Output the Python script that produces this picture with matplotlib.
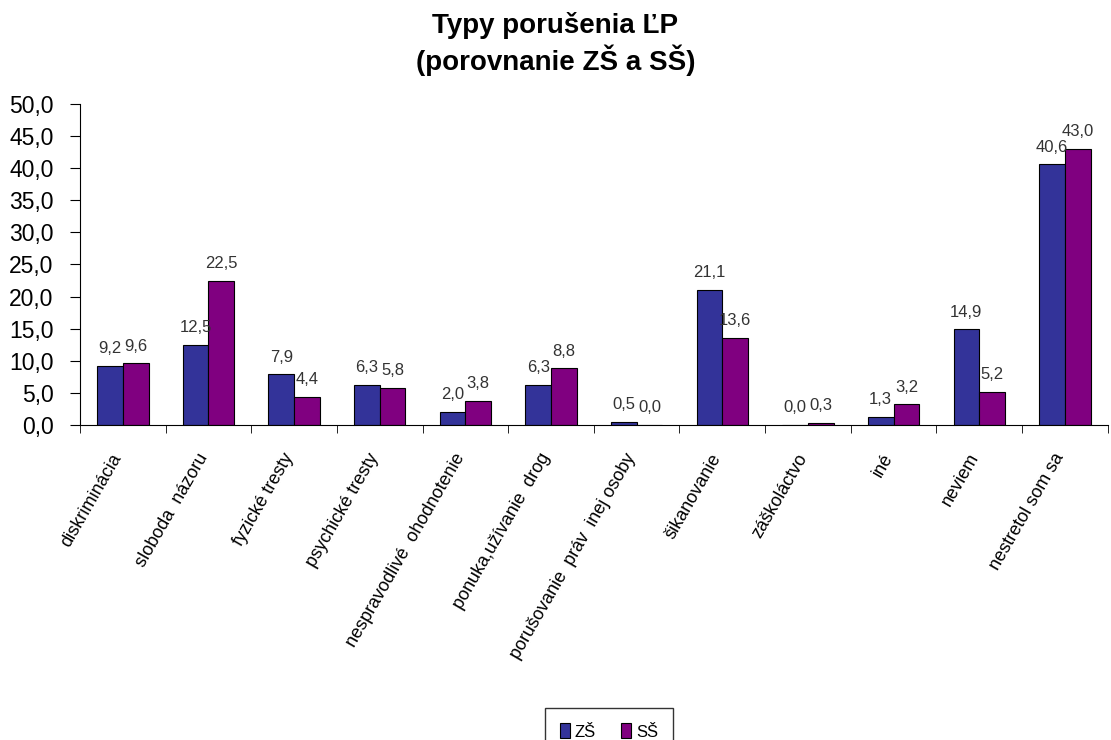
import numpy as np
import matplotlib
matplotlib.use('Agg')
import matplotlib.pyplot as plt
import matplotlib.transforms as mtransforms

plt.rcParams['font.family'] = ['Liberation Sans', 'DejaVu Sans']

# údaje
kategorie = ['diskriminácia', 'sloboda  názoru', 'fyzické tresty', 'psychické tresty',
             'nespravodlivé  ohodnotenie', 'ponuka,užívanie  drog',
             'porušovanie  práv  inej osoby', 'šikanovanie', 'záškoláctvo', 'iné',
             'neviem', 'nestretol som sa']
zs = [9.2, 12.5, 7.9, 6.3, 2.0, 6.3, 0.5, 21.1, 0.0, 1.3, 14.9, 40.6]
ss = [9.6, 22.5, 4.4, 5.8, 3.8, 8.8, 0.0, 13.6, 0.3, 3.2, 5.2, 43.0]
y_ticks = [0, 5, 10, 15, 20, 25, 30, 35, 40, 45, 50]

fig = plt.figure(figsize=(11.11, 7.4), dpi=100)
ax = fig.add_axes([0.072, 0.4257, 0.925, 0.4338])

x = np.arange(len(kategorie))
w = 0.3
b1 = ax.bar(x - w / 2, zs, w, color='#333399', edgecolor='black', linewidth=0.8, label='ZŠ')
b2 = ax.bar(x + w / 2, ss, w, color='#800080', edgecolor='black', linewidth=0.8, label='SŠ')

for bars, vals in ((b1, zs), (b2, ss)):
    for r, v in zip(bars, vals):
        ax.annotate(f'{v:.1f}'.replace('.', ','), (r.get_x() + r.get_width() / 2, v),
                    xytext=(0, 7), textcoords='offset points', ha='center', va='bottom',
                    fontsize=12, color='#333333')

ax.set_xlim(-0.5, len(kategorie) - 0.5)
ax.set_ylim(0, 50)
ax.set_yticks(y_ticks)
ax.set_yticklabels([f'{t:.1f}'.replace('.', ',') for t in y_ticks], fontsize=16.5)

# kategórie - popisky bez značiek, značky na hraniciach
ax.set_xticks(x)
ax.set_xticklabels(kategorie, rotation=60, ha='right', rotation_mode='anchor', fontsize=13)
ax.tick_params(axis='x', length=0, pad=14)
posun = mtransforms.ScaledTranslation(-0.12, -0.06, fig.dpi_scale_trans)
for lab in ax.get_xticklabels():
    lab.set_transform(lab.get_transform() + posun)
ax.set_xticks(np.arange(len(kategorie) + 1) - 0.5, minor=True)
ax.tick_params(axis='x', which='minor', length=6, direction='out')
ax.tick_params(axis='y', length=7, direction='out', pad=12)

ax.spines['top'].set_visible(False)
ax.spines['right'].set_visible(False)

fig.text(0.5, 0.984, 'Typy porušenia ĽP\n(porovnanie ZŠ a SŠ)', ha='center', va='top',
         fontsize=20, fontweight='bold', linespacing=1.22)

fig.legend(handles=[b1, b2], loc='upper center', bbox_to_anchor=(0.548, 0.054), ncol=2,
           fontsize=12, frameon=True, fancybox=False, edgecolor='black',
           handlelength=0.6, handleheight=1.0, handletextpad=0.3, columnspacing=1.5,
           borderpad=0.9)

fig.savefig('out.png', dpi=100)
